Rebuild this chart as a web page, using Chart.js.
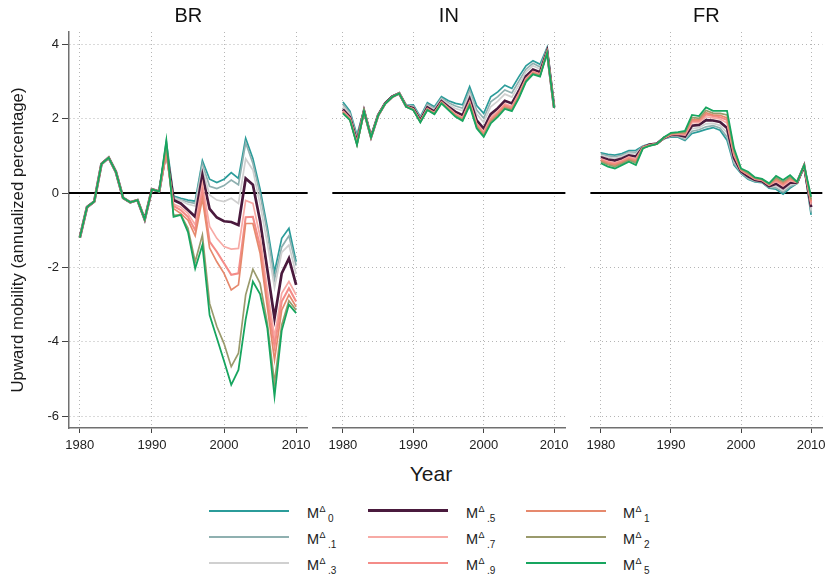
<!DOCTYPE html>
<html><head><meta charset="utf-8">
<script src="https://cdn.jsdelivr.net/npm/chart.js@4.4.1/dist/chart.umd.min.js"></script>
<style>
html,body{margin:0;padding:0;background:#fff;}
#wrap{position:relative;width:831px;height:578px;overflow:hidden;font-family:'Liberation Sans',Arial,sans-serif;color:#222;}
canvas{position:absolute;top:0;}
.xtitle{position:absolute;left:431px;top:473px;transform:translate(-50%,-50%);font-size:21px;line-height:1;color:#1a1a1a;}
.lg-line{position:absolute;height:0;}
.lg-lab{position:absolute;white-space:nowrap;width:40px;height:30px;}
.lg-lab span{position:absolute;white-space:nowrap;}
</style></head>
<body><div id="wrap">
<canvas id="cBR" width="316" height="460" style="left:0px"></canvas>
<canvas id="cIN" width="251" height="460" style="left:323px"></canvas>
<canvas id="cFR" width="250" height="460" style="left:581px"></canvas>
<div class="xtitle">Year</div>
<div id="legend"></div>
</div>
<script>
// ---------- data ----------
const years = [1980,1981,1982,1983,1984,1985,1986,1987,1988,1989,1990,1991,1992,1993,1994,1995,1996,1997,1998,1999,2000,2001,2002,2003,2004,2005,2006,2007,2008,2009,2010];
const xTicks = [1980,1990,2000,2010];
const yTicks = [-6,-4,-2,0,2,4];
const panelNames = ['BR','IN','FR'];
const yTitle = 'Upward mobility (annualized percentage)';
const seriesSubs = ['0','.1','.3','.5','.7','.9','1','2','5'];
const seriesColors = ['#2b9c9a','#8fb0b0','#d0d0d0','#4a1a3d','#f7aaa5','#f48c88','#e6896d','#9a9a6c','#17a55f'];
const seriesWidths = [1.7,1.7,1.7,2.7,1.7,2.1,1.7,1.7,1.8];

// BR
const BR_M0  = [-1.2,-0.38,-0.23,0.78,0.95,0.57,-0.13,-0.25,-0.19,-0.71,0.1,0.04,1.38,-0.08,-0.14,-0.19,-0.22,0.87,0.37,0.28,0.37,0.55,0.39,1.47,0.93,0.1,-0.92,-2.12,-1.22,-0.95,-1.85];
const BR_M01 = [-1.2,-0.38,-0.23,0.78,0.95,0.57,-0.13,-0.25,-0.19,-0.71,0.1,0.04,1.3,-0.11,-0.18,-0.24,-0.28,0.78,0.18,0.12,0.2,0.35,0.22,1.35,0.8,-0.03,-1.05,-2.32,-1.45,-1.15,-1.95];
const BR_M03 = [-1.2,-0.38,-0.23,0.78,0.95,0.57,-0.13,-0.25,-0.19,-0.71,0.1,0.04,1.25,-0.13,-0.2,-0.3,-0.35,0.65,-0.05,-0.19,-0.23,-0.14,-0.28,0.92,0.62,-0.3,-1.35,-2.55,-1.6,-1.4,-2.18];
const BR_M05 = [-1.2,-0.38,-0.23,0.78,0.95,0.57,-0.13,-0.25,-0.19,-0.71,0.1,0.04,1.15,-0.19,-0.28,-0.46,-0.64,0.48,-0.43,-0.66,-0.76,-0.78,-0.86,0.39,0.22,-0.75,-2.05,-3.37,-2.16,-1.76,-2.47];
const BR_M07 = [-1.2,-0.38,-0.23,0.78,0.95,0.57,-0.13,-0.25,-0.19,-0.71,0.1,0.04,1.1,-0.3,-0.38,-0.55,-0.85,0.25,-0.9,-1.22,-1.44,-1.51,-1.49,-0.2,-0.28,-1.17,-2.6,-3.86,-2.7,-2.38,-2.74];
const BR_M09 = [-1.2,-0.38,-0.23,0.78,0.95,0.57,-0.13,-0.25,-0.19,-0.71,0.1,0.04,1.1,-0.35,-0.46,-0.64,-1.0,0.05,-1.31,-1.58,-1.89,-2.2,-2.16,-0.65,-0.64,-1.44,-2.88,-4.13,-2.92,-2.56,-2.92];
const BR_M1  = [-1.2,-0.38,-0.23,0.78,0.95,0.57,-0.13,-0.25,-0.19,-0.71,0.1,0.04,1.1,-0.42,-0.55,-0.73,-1.15,-0.15,-1.48,-1.85,-2.16,-2.61,-2.47,-0.82,-0.82,-1.62,-3.06,-4.49,-3.15,-2.74,-3.06];
const BR_M2  = [-1.2,-0.38,-0.23,0.78,0.95,0.57,-0.13,-0.25,-0.19,-0.71,0.1,0.04,1.3,-0.6,-0.58,-0.95,-1.85,-1.13,-2.97,-3.59,-4.05,-4.67,-4.31,-2.74,-2.05,-2.43,-3.5,-5.1,-3.55,-2.9,-3.15];
const BR_M5  = [-1.2,-0.38,-0.23,0.78,0.95,0.57,-0.13,-0.25,-0.19,-0.71,0.1,0.04,1.42,-0.64,-0.59,-1.05,-2.03,-1.4,-3.28,-3.9,-4.52,-5.16,-4.76,-3.4,-2.38,-2.72,-3.63,-5.47,-3.7,-3.0,-3.23];

// IN
const IN_M0  = [2.45,2.2,1.56,2.24,1.52,2.1,2.42,2.6,2.68,2.36,2.37,2.05,2.43,2.32,2.59,2.48,2.41,2.37,2.86,2.35,2.14,2.59,2.72,2.9,2.81,3.13,3.42,3.56,3.46,3.91,2.32];
const IN_M01 = [2.39,2.15,1.51,2.23,1.52,2.1,2.42,2.6,2.68,2.35,2.34,2.02,2.39,2.28,2.55,2.43,2.34,2.28,2.76,2.23,2.01,2.45,2.59,2.77,2.69,3.01,3.33,3.49,3.39,3.88,2.31];
const IN_M03 = [2.33,2.11,1.46,2.22,1.51,2.09,2.41,2.59,2.68,2.34,2.32,1.99,2.35,2.24,2.52,2.39,2.27,2.21,2.67,2.12,1.9,2.32,2.47,2.66,2.58,2.91,3.26,3.42,3.33,3.85,2.31];
const IN_M05 = [2.25,2.04,1.38,2.21,1.51,2.09,2.41,2.59,2.68,2.33,2.28,1.95,2.3,2.19,2.47,2.32,2.18,2.09,2.53,1.95,1.73,2.12,2.28,2.48,2.41,2.75,3.14,3.32,3.25,3.81,2.3];
const IN_M07 = [2.21,2.01,1.35,2.21,1.5,2.08,2.4,2.58,2.68,2.33,2.26,1.93,2.27,2.16,2.45,2.29,2.13,2.03,2.46,1.87,1.65,2.03,2.2,2.4,2.33,2.68,3.08,3.27,3.2,3.79,2.3];
const IN_M09 = [2.19,2.0,1.33,2.21,1.5,2.08,2.4,2.58,2.68,2.33,2.25,1.92,2.26,2.15,2.44,2.27,2.1,2.0,2.43,1.83,1.6,1.98,2.15,2.36,2.29,2.64,3.05,3.25,3.18,3.78,2.29];
const IN_M1  = [2.17,1.98,1.32,2.2,1.5,2.08,2.4,2.58,2.68,2.32,2.24,1.92,2.25,2.14,2.43,2.26,2.09,1.98,2.4,1.8,1.57,1.94,2.12,2.32,2.26,2.61,3.03,3.23,3.16,3.78,2.29];
const IN_M2  = [2.16,1.97,1.3,2.2,1.5,2.08,2.4,2.58,2.68,2.32,2.24,1.91,2.24,2.13,2.42,2.24,2.07,1.96,2.38,1.77,1.54,1.91,2.08,2.29,2.23,2.58,3.01,3.21,3.15,3.77,2.29];
const IN_M5  = [2.14,1.96,1.29,2.2,1.5,2.08,2.4,2.58,2.68,2.32,2.23,1.9,2.23,2.12,2.41,2.23,2.05,1.94,2.35,1.74,1.51,1.87,2.05,2.26,2.2,2.55,2.99,3.19,3.13,3.76,2.29];

// FR
const FR_M0  = [1.08,1.04,1.02,1.06,1.14,1.15,1.26,1.32,1.33,1.46,1.51,1.5,1.41,1.6,1.65,1.71,1.76,1.69,1.42,0.75,0.53,0.37,0.3,0.28,0.13,0.1,-0.03,0.13,0.26,0.71,-0.59];
const FR_M01 = [1.05,1.0,0.98,1.02,1.1,1.1,1.25,1.31,1.33,1.46,1.52,1.52,1.44,1.66,1.7,1.78,1.81,1.75,1.51,0.8,0.55,0.39,0.31,0.29,0.15,0.14,0.02,0.17,0.26,0.71,-0.53];
const FR_M03 = [1.01,0.96,0.93,0.98,1.07,1.05,1.25,1.31,1.33,1.47,1.54,1.54,1.48,1.73,1.76,1.86,1.87,1.82,1.62,0.86,0.56,0.42,0.33,0.31,0.16,0.19,0.07,0.22,0.27,0.72,-0.47];
const FR_M05 = [0.96,0.9,0.87,0.93,1.01,0.98,1.23,1.3,1.33,1.48,1.56,1.56,1.52,1.81,1.83,1.96,1.95,1.91,1.75,0.94,0.58,0.45,0.35,0.32,0.18,0.25,0.13,0.28,0.28,0.73,-0.38];
const FR_M07 = [0.92,0.85,0.81,0.88,0.97,0.92,1.23,1.29,1.32,1.48,1.57,1.58,1.56,1.89,1.89,2.05,2.02,1.99,1.88,1.01,0.61,0.49,0.37,0.34,0.21,0.31,0.19,0.33,0.28,0.73,-0.31];
const FR_M09 = [0.89,0.82,0.78,0.85,0.94,0.88,1.22,1.29,1.32,1.49,1.58,1.6,1.59,1.94,1.94,2.11,2.07,2.04,1.96,1.06,0.62,0.51,0.38,0.35,0.22,0.34,0.23,0.37,0.29,0.74,-0.26];
const FR_M1  = [0.87,0.79,0.75,0.82,0.91,0.85,1.21,1.28,1.32,1.49,1.59,1.61,1.61,1.98,1.97,2.16,2.1,2.09,2.02,1.09,0.63,0.52,0.39,0.36,0.23,0.37,0.26,0.4,0.29,0.74,-0.22];
const FR_M2  = [0.84,0.76,0.71,0.79,0.88,0.81,1.21,1.28,1.32,1.49,1.6,1.62,1.63,2.03,2.01,2.22,2.15,2.14,2.1,1.14,0.64,0.54,0.4,0.37,0.24,0.41,0.3,0.43,0.29,0.74,-0.17];
const FR_M5  = [0.8,0.71,0.66,0.75,0.84,0.75,1.2,1.27,1.32,1.5,1.62,1.64,1.67,2.1,2.07,2.3,2.21,2.21,2.21,1.2,0.66,0.57,0.42,0.38,0.26,0.46,0.35,0.48,0.3,0.75,-0.1];

const panelData = {
  BR: [BR_M0,BR_M01,BR_M03,BR_M05,BR_M07,BR_M09,BR_M1,BR_M2,BR_M5],
  IN: [IN_M0,IN_M01,IN_M03,IN_M05,IN_M07,IN_M09,IN_M1,IN_M2,IN_M5],
  FR: [FR_M0,FR_M01,FR_M03,FR_M05,FR_M07,FR_M09,FR_M1,FR_M2,FR_M5]
};

// ---------- charts ----------
const FONT = "'Liberation Sans',Arial,sans-serif";
const zeroLine = {
  id: 'zeroLine',
  beforeDatasetsDraw(chart) {
    const {ctx, chartArea: a, scales: {y}} = chart;
    const py = y.getPixelForValue(0);
    ctx.save();
    ctx.strokeStyle = '#000';
    ctx.lineWidth = 1.8;
    ctx.beginPath(); ctx.moveTo(a.left, py); ctx.lineTo(a.right, py); ctx.stroke();
    ctx.restore();
  }
};
const yTitlePlugin = {
  id: 'yTitleText',
  afterDraw(chart) {
    const ctx = chart.ctx;
    ctx.save();
    ctx.translate(18, 240);
    ctx.rotate(-Math.PI / 2);
    ctx.font = "16.8px " + FONT;
    ctx.fillStyle = '#1a1a1a';
    ctx.textAlign = 'center';
    ctx.textBaseline = 'middle';
    ctx.fillText(yTitle, 0, 0);
    ctx.restore();
  }
};

function makePanel(canvasId, name, first, padL, padR) {
  const datasets = panelData[name].map((arr, i) => ({
    label: 'M' + seriesSubs[i],
    data: years.map((yr, j) => ({x: yr, y: arr[j]})),
    borderColor: seriesColors[i],
    borderWidth: seriesWidths[i],
    pointRadius: 0,
    tension: 0,
    fill: false,
    order: 9 - i
  }));
  return new Chart(document.getElementById(canvasId), {
    type: 'line',
    data: {datasets},
    plugins: first ? [zeroLine, yTitlePlugin] : [zeroLine],
    options: {
      responsive: false,
      animation: false,
      layout: {padding: {left: padL, right: padR, top: 0, bottom: 0}},
      plugins: {
        legend: {display: false},
        tooltip: {enabled: false},
        title: {
          display: true, text: name, fullSize: false, color: '#111',
          font: {family: FONT, size: 20, weight: 'normal', lineHeight: 1.2},
          padding: {top: 4, bottom: 4}
        }
      },
      scales: {
        x: {
          type: 'linear', min: 1978.5, max: 2011.6,
          afterBuildTicks: s => { s.ticks = xTicks.map(v => ({value: v})); },
          afterFit: s => { s.height = 32; },
          ticks: {font: {family: FONT, size: 13}, color: '#222', padding: 5, maxRotation: 0, autoSkip: false, callback: v => String(v)},
          grid: {color: '#b5b5b5', lineWidth: 1, tickColor: '#444', tickLength: 5, tickWidth: 1},
          border: {display: true, color: '#707070', width: 1.5, dash: [1, 3]}
        },
        y: {
          type: 'linear', min: -6.32, max: 4.33,
          afterBuildTicks: s => { s.ticks = yTicks.map(v => ({value: v})); },
          afterFit: s => { s.width = first ? 69 : 0; },
          ticks: {display: first, font: {family: FONT, size: 13}, color: '#222', padding: 3, callback: v => String(v)},
          grid: {
            color: c => (c.tick && c.tick.value === 0) ? 'rgba(0,0,0,0)' : '#b5b5b5',
            lineWidth: 1, drawTicks: first, tickColor: '#444', tickLength: 7, tickWidth: 1
          },
          border: {display: first, color: '#707070', width: 1.5, dash: [1, 3]}
        }
      }
    }
  });
}
makePanel('cBR', 'BR', true, 0, 4);
makePanel('cIN', 'IN', false, 4, 4);
makePanel('cFR', 'FR', false, 4, 3);

// ---------- legend ----------
const legend = document.getElementById('legend');
const colLineX = [209, 368, 526];
const colLabX = [307, 466, 623];
const rowY = [510.7, 536.7, 562.7];
seriesSubs.forEach((sub, i) => {
  const col = Math.floor(i / 3), row = i % 3;
  const w = Math.max(2, Math.round(seriesWidths[i]));
  const ln = document.createElement('div');
  ln.className = 'lg-line';
  ln.style.left = colLineX[col] + 'px';
  ln.style.width = '80px';
  ln.style.top = Math.round(rowY[row] - w / 2) + 'px';
  ln.style.borderTop = w + 'px solid ' + seriesColors[i];
  legend.appendChild(ln);
  const lab = document.createElement('div');
  lab.className = 'lg-lab';
  lab.style.left = colLabX[col] + 'px';
  lab.style.top = (rowY[row] - 8) + 'px';
  lab.innerHTML =
    '<span style="left:0;top:3.3px;font-size:14.5px;line-height:14.5px">M</span>' +
    '<span style="left:12.6px;top:2.7px;font-size:9px;line-height:9px">\u0394</span>' +
    '<span style="left:21px;top:11.8px;font-size:10px;line-height:10px">' + sub + '</span>';
  legend.appendChild(lab);
});
</script>
</body></html>
